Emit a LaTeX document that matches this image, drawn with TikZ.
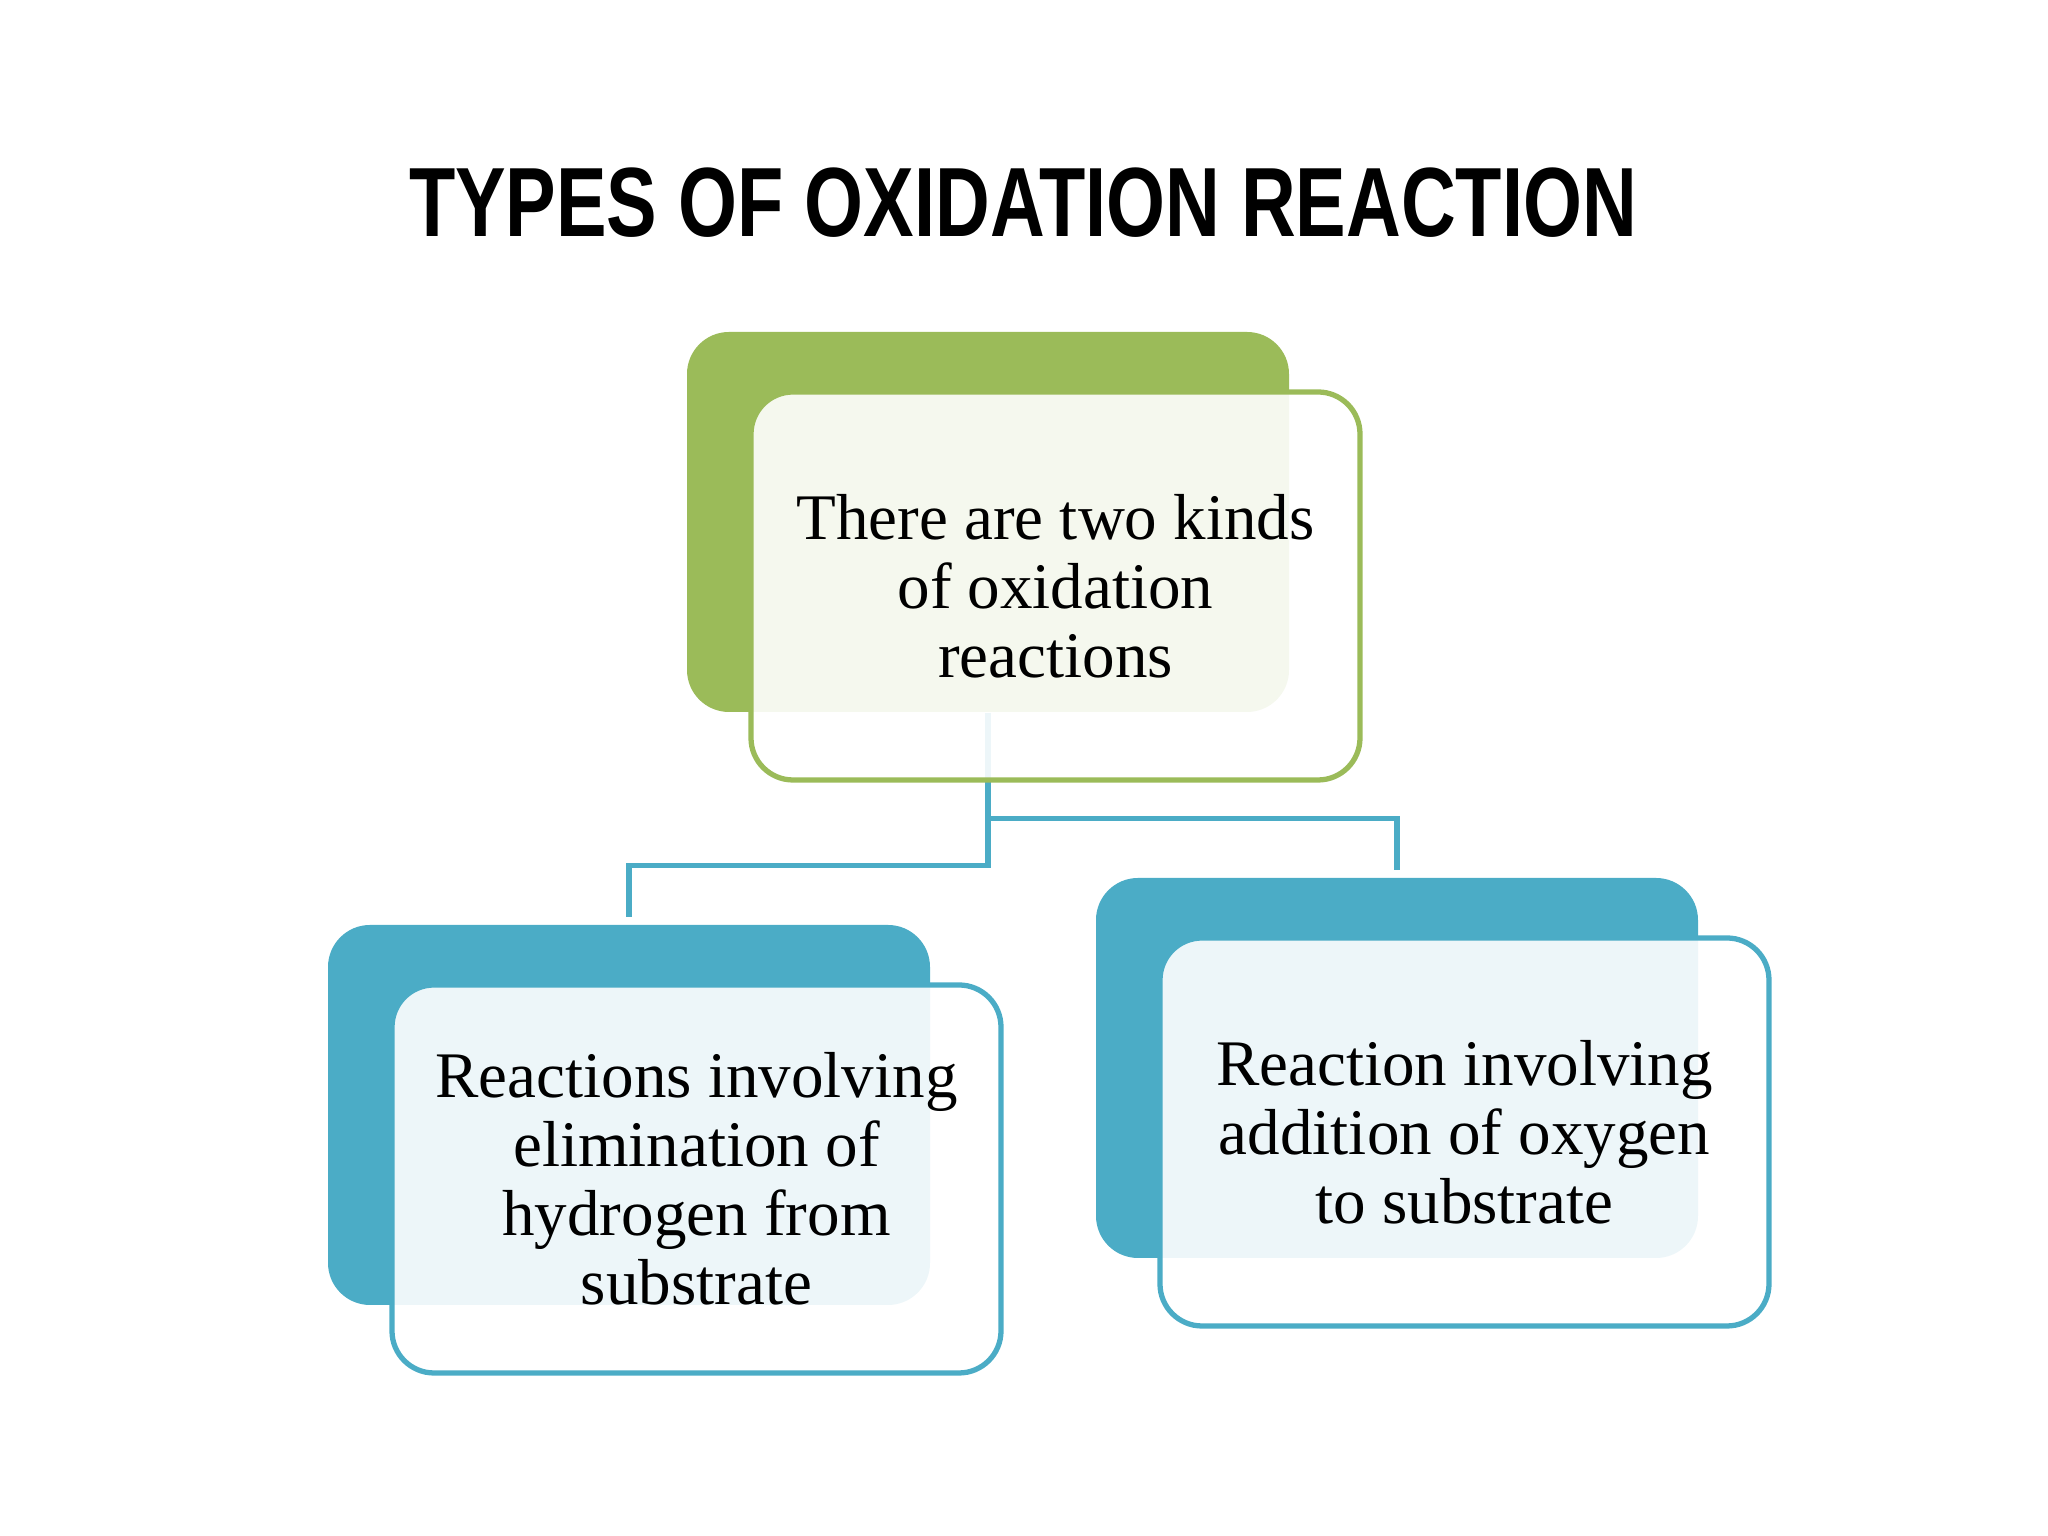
\documentclass[tikz,border=0pt]{standalone}
\usepackage{fontspec}
\setmainfont{Liberation Serif}
\newfontfamily\titlefont[FakeStretch=0.77]{Liberation Sans}
\usepackage{tikz}
\usetikzlibrary{calc}
\definecolor{oxgreen}{HTML}{9BBB59}
\definecolor{oxblue}{HTML}{4BACC6}
\tikzset{backbox/.style={rectangle, rounded corners=0.42cm, minimum width=6.02cm, minimum height=3.8cm, inner sep=0pt}}
\tikzset{frontbox/.style={rectangle, rounded corners=0.42cm, minimum width=6.09cm, minimum height=3.88cm,
      line width=1.5pt, fill=white, fill opacity=0.9, text opacity=1, align=center,
      font=\fontsize{18.5}{19.6}\selectfont}}
\tikzset{link/.style={draw=oxblue, line width=1.6pt}}

\begin{document}
\begin{tikzpicture}
		\useasboundingbox (0,0) rectangle (20.48,15.36);
		\node (title) at (10.23,13.33) {\titlefont\bfseries\fontsize{28}{31}\selectfont TYPES OF OXIDATION REACTION};
		% back boxes
		\node[backbox, fill=oxgreen] (topback) at (9.88,10.14) {};
		\node[backbox, fill=oxblue] (leftback) at (6.29,4.21) {};
		\node[backbox, fill=oxblue] (rightback) at (13.97,4.68) {};
		% connectors
		\draw[link] (topback.south) -- ++(0,-1.53) -| ([yshift=0.07cm]leftback.north);
		\draw[link] (topback.south) ++(0,-1.06) -| ([yshift=0.07cm]rightback.north);
		% front boxes
		\node[frontbox, draw=oxgreen] (topfront) at ([shift={(0.675,-0.64)}]topback) {There are two kinds\\of oxidation\\reactions};
		\node[frontbox, draw=oxblue] (leftfront) at ([shift={(0.675,-0.64)}]leftback) {Reactions involving\\elimination of\\hydrogen from\\substrate};
		\node[frontbox, draw=oxblue] (rightfront) at ([shift={(0.675,-0.64)}]rightback) {Reaction involving\\addition of oxygen\\to substrate};
		\end{tikzpicture}
\end{document}
